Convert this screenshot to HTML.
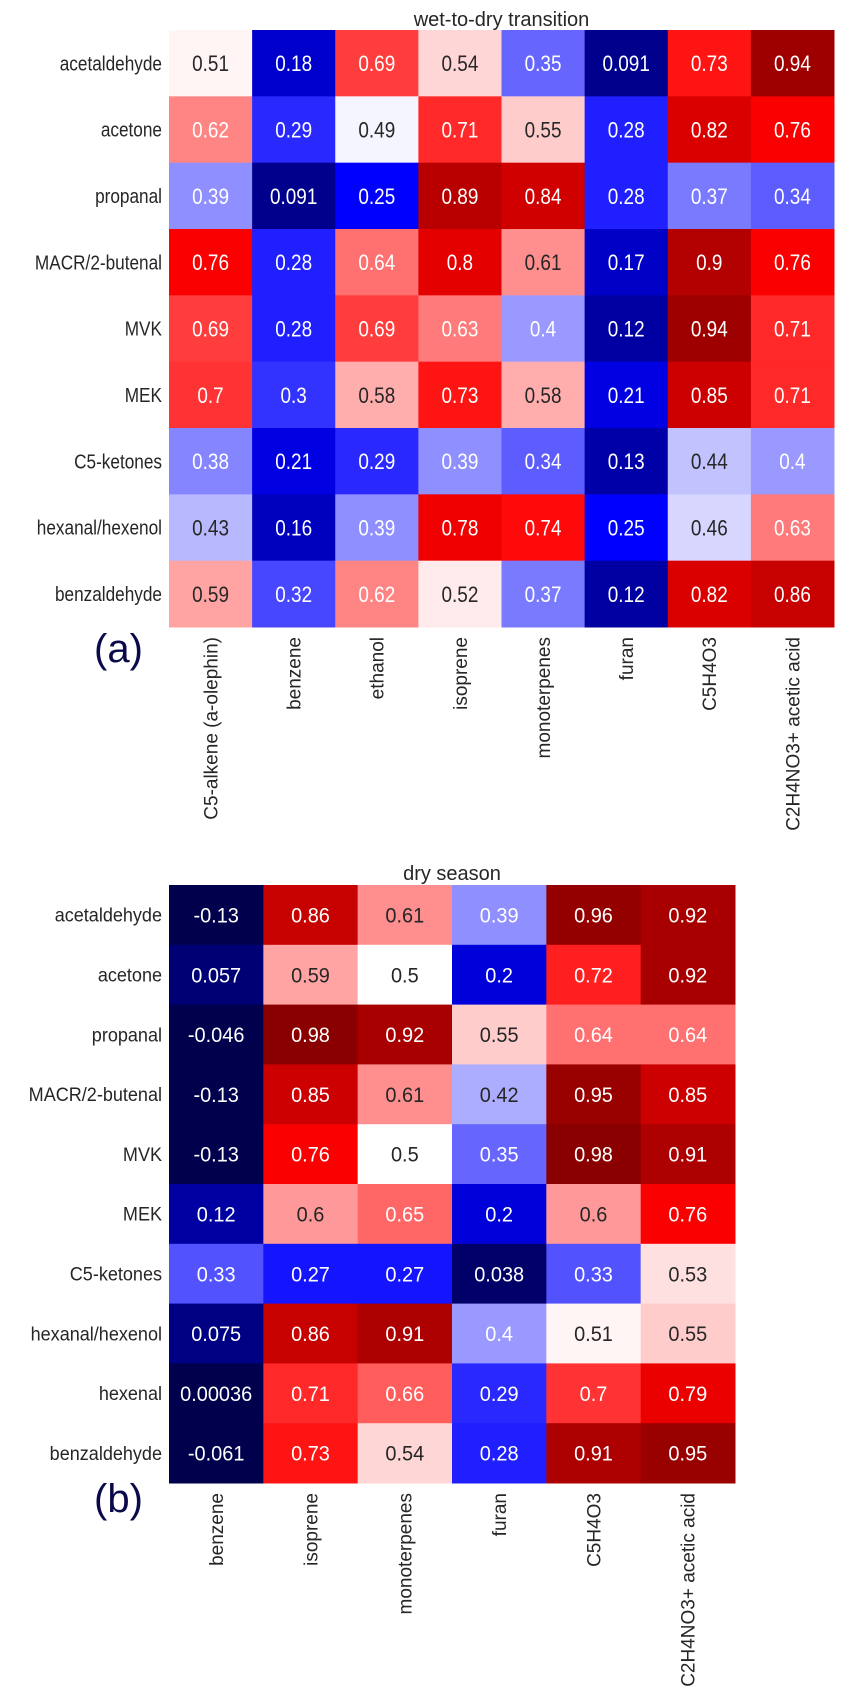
<!DOCTYPE html>
<html><head><meta charset="utf-8"><style>
html,body{margin:0;padding:0;background:#fff}
svg{display:block}
text{font-family:"Liberation Sans",sans-serif}
</style></head>
<body>
<svg id="chart" width="848" height="1707" viewBox="0 0 848 1707" xmlns="http://www.w3.org/2000/svg"></svg>
<script>
const rowsA = ["acetaldehyde","acetone","propanal","MACR/2-butenal","MVK","MEK","C5-ketones","hexanal/hexenol","benzaldehyde"];
const colsA = ["C5-alkene (a-olephin)","benzene","ethanol","isoprene","monoterpenes","furan","C5H4O3","C2H4NO3+ acetic acid"];
const valuesA = [
[0.51,0.18,0.69,0.54,0.35,0.091,0.73,0.94],
[0.62,0.29,0.49,0.71,0.55,0.28,0.82,0.76],
[0.39,0.091,0.25,0.89,0.84,0.28,0.37,0.34],
[0.76,0.28,0.64,0.8,0.61,0.17,0.9,0.76],
[0.69,0.28,0.69,0.63,0.4,0.12,0.94,0.71],
[0.7,0.3,0.58,0.73,0.58,0.21,0.85,0.71],
[0.38,0.21,0.29,0.39,0.34,0.13,0.44,0.4],
[0.43,0.16,0.39,0.78,0.74,0.25,0.46,0.63],
[0.59,0.32,0.62,0.52,0.37,0.12,0.82,0.86]];
const rowsB = ["acetaldehyde","acetone","propanal","MACR/2-butenal","MVK","MEK","C5-ketones","hexanal/hexenol","hexenal","benzaldehyde"];
const colsB = ["benzene","isoprene","monoterpenes","furan","C5H4O3","C2H4NO3+ acetic acid"];
const valuesB = [
[-0.13,0.86,0.61,0.39,0.96,0.92],
[0.057,0.59,0.5,0.2,0.72,0.92],
[-0.046,0.98,0.92,0.55,0.64,0.64],
[-0.13,0.85,0.61,0.42,0.95,0.85],
[-0.13,0.76,0.5,0.35,0.98,0.91],
[0.12,0.6,0.65,0.2,0.6,0.76],
[0.33,0.27,0.27,0.038,0.33,0.53],
[0.075,0.86,0.91,0.4,0.51,0.55],
[0.00036,0.71,0.66,0.29,0.7,0.79],
[-0.061,0.73,0.54,0.28,0.91,0.95]];

const NS="http://www.w3.org/2000/svg";
const svg=document.getElementById('chart');
function mk(tag,attrs,parent){const e=document.createElementNS(NS,tag);for(const k in attrs)e.setAttribute(k,attrs[k]);(parent||svg).appendChild(e);return e;}
function seismic(v){let t=Math.max(0,Math.min(1,v));let r,g,b;
 if(t<0.25){const s=t/0.25;r=0;g=0;b=0.3+0.7*s;}
 else if(t<0.5){const s=(t-0.25)/0.25;r=s;g=s;b=1;}
 else if(t<0.75){const s=(t-0.5)/0.25;r=1;g=1-s;b=1-s;}
 else{const s=(t-0.75)/0.25;r=1-0.5*s;g=0;b=0;}
 return [r,g,b];}
function lum(c){const l=c.map(x=>x<=0.03928?x/12.92:Math.pow((x+0.055)/1.055,2.4));return 0.2126*l[0]+0.7152*l[1]+0.0722*l[2];}
function css(c){return 'rgb('+c.map(x=>Math.round(x*255)).join(',')+')';}

function heatmap(p){
 const g=mk('g',{});
 
 
 const cw=(p.x1-p.x0)/p.cols.length, rh=(p.y1-p.y0)/p.rows.length;
 const xs=i=>p.x0+i*cw, ys=j=>p.y0+j*rh;
 const t=mk('text',{x:(p.x0+p.x1)/2,y:p.titleY,'text-anchor':'middle','font-size':p.titleSize,fill:'#262626'},g);
 t.textContent=p.title;
 
 
 p.vals.forEach((row,j)=>row.forEach((v,i)=>{
  const c=seismic(v);
  const r=mk('rect',{x:xs(i),y:ys(j),width:cw+0.5,height:rh+0.5,fill:css(c)},g);
  
  
  const tx=xs(i)+cw/2, ty=ys(j)+rh/2+p.valSize*0.36;
  const tt=mk('text',{transform:'translate('+tx+','+ty+') scale('+p.sx+',1)','text-anchor':'middle','font-size':p.valSize,fill:lum(c)>0.408?'#262626':'#ffffff'},g);
  tt.textContent=String(v);
  
  
 }));
 p.rows.forEach((n,j)=>{
  const ty=ys(j)+rh/2+p.labSize*0.36;
  const tl=mk('text',{transform:'translate('+(p.x0-7)+','+ty+') scale('+p.sx+',1)','text-anchor':'end','font-size':p.labSize,fill:'#262626'},g);
  tl.textContent=n;
  
  
 });
 p.cols.forEach((n,i)=>{
  const tx=xs(i)+cw/2+p.colSize*0.36;
  const tl=mk('text',{transform:'translate('+tx+','+(p.y1+10)+') rotate(-90)','text-anchor':'end','font-size':p.colSize,fill:'#262626'},g);
  tl.textContent=n;
  
  
 });
 const pl=mk('text',{x:p.panelX,y:p.panelY,'font-size':40,fill:'#0a0a4a'},g);
 pl.textContent=p.panel;
 
 
}
heatmap({name:'heatmap-wet-to-dry',title:'wet-to-dry transition',titleY:26,titleSize:20,rows:rowsA,cols:colsA,vals:valuesA,x0:169,x1:834,y0:30,y1:627,valSize:22,labSize:20,colSize:19,sx:0.86,panel:'(a)',panelX:94,panelY:662});
heatmap({name:'heatmap-dry-season',title:'dry season',titleY:880,titleSize:20,rows:rowsB,cols:colsB,vals:valuesB,x0:169,x1:735,y0:885,y1:1483,valSize:21,labSize:19,colSize:19,sx:0.95,panel:'(b)',panelX:94,panelY:1512});
</script>
</body></html>
